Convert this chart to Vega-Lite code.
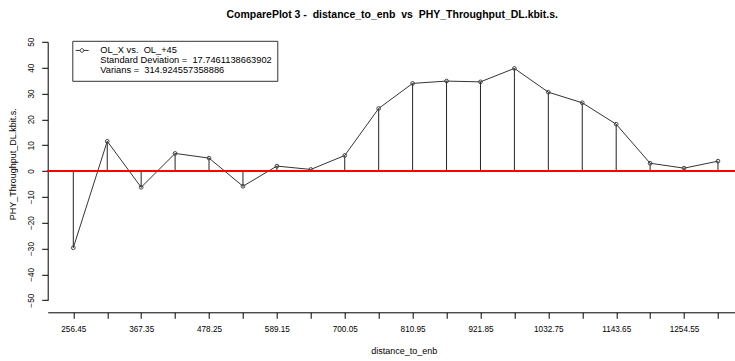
{
  "$schema": "https://vega.github.io/schema/vega-lite/v6.json",
  "width": 687,
  "height": 258.4,
  "autosize": {"type": "none"},
  "padding": {"left": 47.7, "top": 41.8, "right": 0, "bottom": 60.8},
  "background": "white",
  "title": {
    "text": "ComparePlot 3 -\u00a0 distance_to_enb\u00a0 vs\u00a0 PHY_Throughput_DL.kbit.s.",
    "font": "Liberation Sans",
    "fontSize": 10.5,
    "fontWeight": "bold",
    "color": "black",
    "anchor": "middle",
    "frame": "group",
    "dx": 1,
    "offset": 16.5
  },
  "config": {
    "view": {"stroke": null},
    "font": "Liberation Sans",
    "legend": {"rowPadding": -1.8},
    "axis": {
      "domainColor": "black",
      "tickColor": "black",
      "labelColor": "black",
      "titleColor": "black",
      "grid": false,
      "labelFont": "Liberation Sans",
      "titleFont": "Liberation Sans",
      "titleFontWeight": "normal",
      "labelFontSize": 8.2,
      "titleFontSize": 9,
      "tickSize": 6
    }
  },
  "data": {
    "values": [
      {"distance": 256.45, "value": -29.7, "series": "OL_X vs.\u00a0 OL_+45"},
      {"distance": 311.9, "value": 11.5, "series": "OL_X vs.\u00a0 OL_+45"},
      {"distance": 367.35, "value": -6.3, "series": "OL_X vs.\u00a0 OL_+45"},
      {"distance": 422.8, "value": 6.8, "series": "OL_X vs.\u00a0 OL_+45"},
      {"distance": 478.25, "value": 5.0, "series": "OL_X vs.\u00a0 OL_+45"},
      {"distance": 533.7, "value": -5.9, "series": "OL_X vs.\u00a0 OL_+45"},
      {"distance": 589.15, "value": 1.9, "series": "OL_X vs.\u00a0 OL_+45"},
      {"distance": 644.6, "value": 0.6, "series": "OL_X vs.\u00a0 OL_+45"},
      {"distance": 700.05, "value": 6.0, "series": "OL_X vs.\u00a0 OL_+45"},
      {"distance": 755.5, "value": 24.2, "series": "OL_X vs.\u00a0 OL_+45"},
      {"distance": 810.95, "value": 33.9, "series": "OL_X vs.\u00a0 OL_+45"},
      {"distance": 866.4, "value": 34.8, "series": "OL_X vs.\u00a0 OL_+45"},
      {"distance": 921.85, "value": 34.5, "series": "OL_X vs.\u00a0 OL_+45"},
      {"distance": 977.3, "value": 39.7, "series": "OL_X vs.\u00a0 OL_+45"},
      {"distance": 1032.75, "value": 30.5, "series": "OL_X vs.\u00a0 OL_+45"},
      {"distance": 1088.2, "value": 26.4, "series": "OL_X vs.\u00a0 OL_+45"},
      {"distance": 1143.65, "value": 18.1, "series": "OL_X vs.\u00a0 OL_+45"},
      {"distance": 1199.1, "value": 3.0, "series": "OL_X vs.\u00a0 OL_+45"},
      {"distance": 1254.55, "value": 1.1, "series": "OL_X vs.\u00a0 OL_+45"},
      {"distance": 1310.0, "value": 3.8, "series": "OL_X vs.\u00a0 OL_+45"}
    ]
  },
  "layer": [
    {
      "encoding": {
        "x": {
          "field": "distance",
          "type": "quantitative",
          "scale": {"domain": [214.6, 1337.3], "nice": false, "zero": false},
          "axis": {
            "values": [256.45, 311.9, 367.35, 422.8, 478.25, 533.7, 589.15, 644.6, 700.05, 755.5, 810.95, 866.4, 921.85, 977.3, 1032.75, 1088.2, 1143.65, 1199.1, 1254.55, 1310.0],
            "format": ".2f",
            "labelExpr": "indexof([256.45,367.35,478.25,589.15,700.05,810.95,921.85,1032.75,1143.65,1254.55], datum.value) >= 0 ? datum.label : ''",
            "offset": 12.1,
            "labelPadding": 7,
            "labelFlush": false,
            "labelOverlap": false,
            "title": "distance_to_enb",
            "titleX": 356,
            "titleY": 34.5
          }
        },
        "y": {
          "field": "value",
          "type": "quantitative",
          "scale": {"domain": [-50, 50], "nice": false, "zero": false},
          "axis": {
            "values": [-50, -40, -30, -20, -10, 0, 10, 20, 30, 40, 50],
            "labelAngle": 270,
            "labelAlign": "center",
            "labelBaseline": "bottom",
            "labelPadding": 6.5,
            "labelFlush": false,
            "labelOverlap": false,
            "labelBound": false,
            "title": "PHY_Throughput_DL.kbit.s.",
            "titleX": -30,
            "titleY": 122
          }
        }
      },
      "layer": [
        {
          "mark": {"type": "rule", "color": "#222222", "strokeWidth": 1},
          "encoding": {"y2": {"datum": 0}}
        },
        {
          "mark": {"type": "line", "strokeWidth": 1},
          "encoding": {
            "color": {
              "field": "series",
              "type": "nominal",
              "scale": {
                "domain": ["OL_X vs.\u00a0 OL_+45", "Standard Deviation =\u00a0 17.7461138663902", "Varians =\u00a0 314.924557358886"],
                "range": ["#333333", "#ffffff", "#ffffff"]
              },
              "legend": {
                "orient": "none",
                "legendX": 24.6,
                "legendY": -1.0,
                "title": null,
                "strokeColor": "#333333",
                "fillColor": "white",
                "padding": 5,
                "symbolType": "M-3.15,0L-0.9,0M0.9,0L3.35,0M0.9,0A0.9,0.9 0 1 1 -0.9,0A0.9,0.9 0 1 1 0.9,0",
                "symbolSize": 16,
                "symbolStrokeWidth": 1,
                "symbolFillColor": "white",
                "labelFont": "Liberation Sans",
                "labelFontSize": 9.3,
                "labelColor": "black",
                "labelOffset": 13.7,
                "rowPadding": -1.8,
                "labelLimit": 400
              }
            }
          }
        },
        {
          "mark": {"type": "point", "shape": "circle", "size": 14, "filled": false, "stroke": "#444444", "strokeWidth": 1, "opacity": 1}
        }
      ]
    },
    {
      "mark": {"type": "rule", "strokeWidth": 1},
      "encoding": {
        "y": {
          "datum": 0,
          "type": "quantitative",
          "scale": {"domain": [-50, 50], "nice": false, "zero": false},
          "axis": {
            "values": [-50, -40, -30, -20, -10, 0, 10, 20, 30, 40, 50],
            "labelAngle": 270,
            "labelAlign": "center",
            "labelBaseline": "bottom",
            "labelPadding": 6.5,
            "labelFlush": false,
            "labelOverlap": false,
            "labelBound": false,
            "title": "PHY_Throughput_DL.kbit.s.",
            "titleX": -30,
            "titleY": 122
          }
        },
        "color": {"value": "#ff0000"}
      }
    }
  ]
}
